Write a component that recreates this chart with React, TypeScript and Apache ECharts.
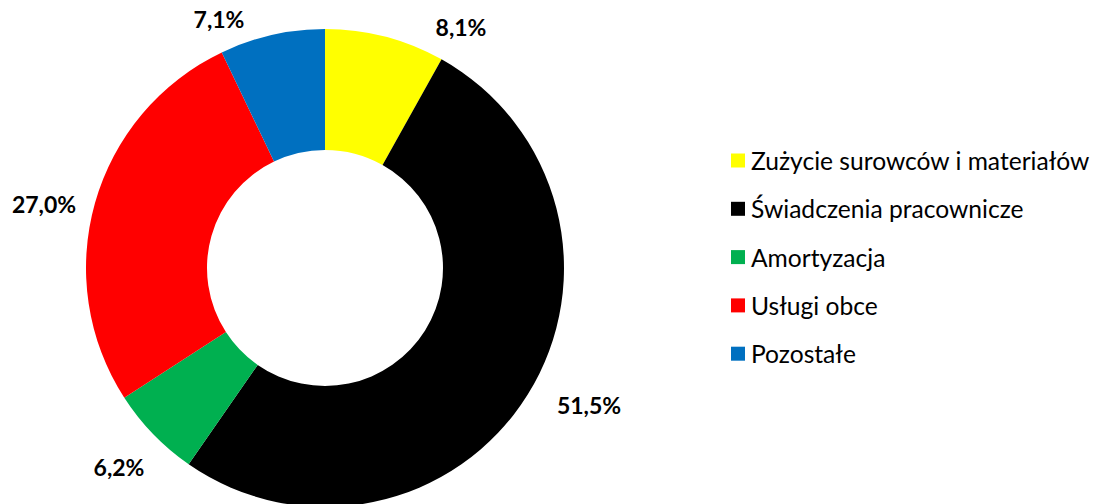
import React, { useEffect, useRef } from "react";
import * as echarts from "echarts";

const categories = [
  "Zużycie surowców i materiałów",
  "Świadczenia pracownicze",
  "Amortyzacja",
  "Usługi obce",
  "Pozostałe",
];
const values = [8.1, 51.5, 6.2, 27.0, 7.1];
const colors = ["#FFFF00", "#000000", "#00B050", "#FF0000", "#0070C0"];
const labelPos: [number, number][] = [
  [461, 27],
  [589, 405],
  [119, 467],
  [44, 204],
  [219, 19],
];

const FONT = "Lato, 'Open Sans', sans-serif";

export default function App() {
  const ref = useRef<HTMLDivElement>(null);
  useEffect(() => {
    document.body.style.margin = "0";
    const chart = echarts.init(ref.current!, null, { renderer: "svg" });
    chart.setOption({
      animation: false,
      color: colors,
      legend: {
        orient: "vertical",
        left: 726,
        top: 143,
        itemWidth: 14,
        itemHeight: 14,
        itemGap: 24.3 - 1,
        icon: "rect",
        textStyle: {
          fontFamily: FONT,
          fontSize: 24.6,
          lineHeight: 24,
          color: "#000",
          padding: [0, 0, 0, 1],
        },
        data: categories,
      },
      series: [
        {
          type: "pie",
          center: [325, 268],
          radius: [118, 239],
          startAngle: 90,
          clockwise: true,
          avoidLabelOverlap: false,
          labelLine: { show: false },
          label: {
            show: true,
            position: "outside",
            fontFamily: FONT,
            fontSize: 23,
            fontWeight: "bold",
            color: "#000",
            formatter: (p: any) => p.value.toFixed(1).replace(".", ",") + "%",
          },
          labelLayout: (p: any) => ({
            x: labelPos[p.dataIndex][0],
            y: labelPos[p.dataIndex][1],
            align: "center",
            verticalAlign: "middle",
          }),
          itemStyle: { borderWidth: 0 },
          emphasis: { disabled: true },
          data: categories.map((name, i) => ({ name, value: values[i] })),
        },
      ],
    });
    return () => chart.dispose();
  }, []);
  return <div ref={ref} style={{ width: 1095, height: 504 }} />;
}
